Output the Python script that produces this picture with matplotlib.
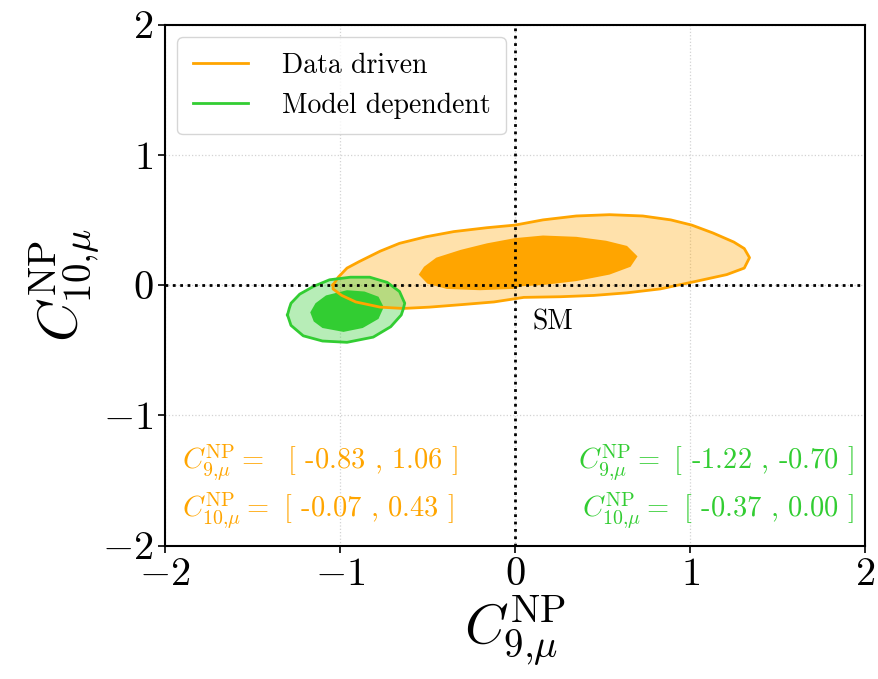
import numpy as np
import matplotlib
matplotlib.use("Agg")
import matplotlib.pyplot as plt

plt.rcParams['mathtext.fontset'] = 'cm'
plt.rcParams['font.family'] = 'serif'
plt.rcParams['font.serif'] = ['cmr10', 'DejaVu Serif']
plt.rcParams['axes.formatter.use_mathtext'] = True

# Contour boundaries (C9, C10)
dd_outer_c9 = [-1.04, -1.01, -0.96, -0.89, -0.77, -0.66, -0.51, -0.35, -0.16, 0.00, 0.16, 0.35,
               0.54, 0.73, 0.89, 1.01, 1.13, 1.25, 1.31, 1.34, 1.31, 1.21, 1.04, 0.83, 0.64,
               0.45, 0.26, 0.05, -0.12, -0.30, -0.49, -0.64, -0.77, -0.91, -0.99, -1.04]
dd_outer_c10 = [0.00, 0.06, 0.13, 0.18, 0.26, 0.32, 0.37, 0.41, 0.44, 0.46, 0.50, 0.53,
                0.54, 0.53, 0.50, 0.46, 0.40, 0.33, 0.28, 0.21, 0.13, 0.08, 0.03, -0.03, -0.06,
                -0.08, -0.09, -0.095, -0.13, -0.15, -0.17, -0.18, -0.17, -0.13, -0.08, -0.03]
dd_inner_c9 = [-0.55, -0.52, -0.45, -0.31, -0.16, 0.00, 0.16, 0.35, 0.52, 0.64, 0.70, 0.66,
               0.54, 0.35, 0.16, 0.03, -0.01, -0.20, -0.39, -0.50]
dd_inner_c10 = [0.08, 0.14, 0.21, 0.27, 0.32, 0.36, 0.38, 0.37, 0.34, 0.30, 0.22, 0.14,
                0.08, 0.03, 0.00, -0.01, -0.03, -0.04, -0.03, 0.01]

md_outer_c9 = [-1.30, -1.29, -1.28, -1.23, -1.15, -1.06, -0.94, -0.83, -0.73, -0.66, -0.63, -0.64, -0.65,
               -0.71, -0.81, -0.96, -1.10, -1.21, -1.28]
md_outer_c10 = [-0.23, -0.18, -0.14, -0.07, -0.01, 0.04, 0.06, 0.06, 0.02, -0.05, -0.14, -0.19, -0.23,
                -0.32, -0.40, -0.44, -0.43, -0.39, -0.31]
md_inner_c9 = [-1.17, -1.14, -1.08, -0.96, -0.86, -0.78, -0.75, -0.78, -0.87, -0.98, -1.10, -1.15]
md_inner_c10 = [-0.21, -0.14, -0.08, -0.04, -0.05, -0.09, -0.17, -0.26, -0.33, -0.36, -0.33, -0.28]

dd_c9_range = [-0.83, 1.06]
dd_c10_range = [-0.07, 0.43]
md_c9_range = [-1.22, -0.70]
md_c10_range = [-0.37, 0.00]

orange = '#FFA500'
green = '#32CD32'


def closed(a):
    return np.append(a, a[0])


fig = plt.figure(figsize=(8.79, 6.79), dpi=100)
ax = fig.add_axes([0.1877, 0.1966, 0.7964, 0.7673])

# filled regions
ax.fill(dd_outer_c9, dd_outer_c10, color=orange, alpha=0.33, lw=0, zorder=2)
ax.fill(dd_inner_c9, dd_inner_c10, color=orange, lw=0, zorder=3)
ax.fill(md_outer_c9, md_outer_c10, color=green, alpha=0.35, lw=0, zorder=4)
ax.fill(md_inner_c9, md_inner_c10, color=green, lw=0, zorder=5)
ax.plot(closed(dd_outer_c9), closed(dd_outer_c10), color=orange, lw=2, zorder=6)
ax.plot(closed(md_outer_c9), closed(md_outer_c10), color=green, lw=2, zorder=6)

# SM lines
ax.axhline(0, color='black', ls=':', lw=2, zorder=7)
ax.axvline(0, color='black', ls=':', lw=2, zorder=7)
ax.text(0.10, -0.285, 'SM', fontsize=20, va='center', ha='left', zorder=8)

# legend handles
ax.plot([], [], color=orange, lw=2, label='Data driven')
ax.plot([], [], color=green, lw=2, label='Model dependent')
ax.legend(loc='upper left', fontsize=20, framealpha=0.8, borderpad=0.55,
          handlelength=2.0, handletextpad=1.2, borderaxespad=0.45)

# interval annotations
ax.text(-1.90, -1.36, r'$C^{\rm NP}_{9{,}\mu} = $  [ %.2f , %.2f ]' % tuple(dd_c9_range),
        color=orange, fontsize=20.5, va='center', ha='left')
ax.text(-1.90, -1.73, r'$C^{\rm NP}_{10{,}\mu} = $ [ %.2f , %.2f ]' % tuple(dd_c10_range),
        color=orange, fontsize=20.5, va='center', ha='left')
ax.text(1.94, -1.36, r'$C^{\rm NP}_{9{,}\mu} = $ [ %.2f , %.2f ]' % tuple(md_c9_range),
        color=green, fontsize=20.5, va='center', ha='right')
ax.text(1.94, -1.73, r'$C^{\rm NP}_{10{,}\mu} = $ [ %.2f , %.2f ]' % tuple(md_c10_range),
        color=green, fontsize=20.5, va='center', ha='right')

ax.set_xlim(-2, 2)
ax.set_ylim(-2, 2)
ax.set_xticks([-2, -1, 0, 1, 2])
ax.set_yticks([-2, -1, 0, 1, 2])
ax.tick_params(labelsize=29, width=1.2, length=5)
ax.grid(True, color='lightgray', ls=':', lw=0.9, zorder=0)
ax.set_axisbelow(True)
for s in ax.spines.values():
    s.set_linewidth(1.5)

ax.set_xlabel(r'$C^{\rm NP}_{9{,}\mu}$', fontsize=40, labelpad=0)
ax.set_ylabel(r'$C^{\rm NP}_{10{,}\mu}$', fontsize=40, labelpad=0)

fig.savefig('out.png', dpi=100)
